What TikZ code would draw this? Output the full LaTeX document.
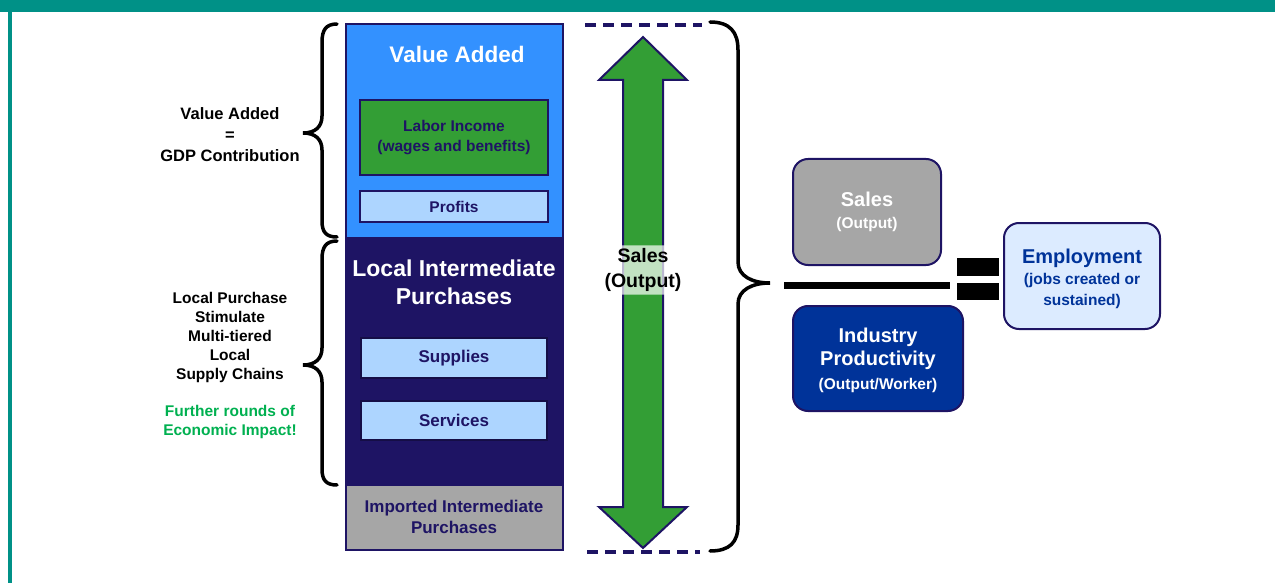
\documentclass[tikz,border=0pt]{standalone}
\usepackage{fontspec}
\setmainfont{Liberation Sans}
\begin{document}
\definecolor{tealc}{RGB}{0,145,135}
\definecolor{navyc}{RGB}{30,20,100}
\definecolor{vablue}{RGB}{51,145,255}
\definecolor{lgreen}{RGB}{51,158,53}
\definecolor{lightblue}{RGB}{173,213,255}
\definecolor{greyc}{RGB}{166,166,166}
\definecolor{prodblue}{RGB}{0,51,153}
\definecolor{empfill}{RGB}{220,235,255}
\definecolor{fgreen}{RGB}{0,176,80}
\begin{tikzpicture}[x=1pt,y=-1pt,
  sect/.style={draw=navyc,line width=1.5pt,minimum width=217pt,inner sep=0pt},
  inbox/.style={draw=navyc,line width=2pt,minimum width=188pt,inner sep=0pt,
    text=navyc,font=\bfseries\fontsize{15.5}{19.5}\selectfont,align=center},
  chainbox/.style={fill=lightblue,draw=navyc!70!black,line width=1.5pt,minimum width=186pt,
    inner sep=0pt,text=navyc,font=\bfseries\fontsize{17}{20}\selectfont},
  rbox/.style={draw=navyc,line width=2pt,rounded corners=15pt,inner sep=0pt,align=center},
  curly/.style={line width=3.5pt,line cap=round},
  sidetext/.style={align=center,font=\bfseries\fontsize{15.5}{19}\selectfont},
  dashrule/.style={draw=navyc,line width=3.5pt,dash pattern=on 11pt off 7pt}]
\useasboundingbox (0,0) rectangle (1275,583);
% frame bars
\fill[tealc] (0,0) rectangle (1275,12);
\fill[tealc] (8,0) rectangle (12,583);

% stacked column
\node[sect,fill=vablue,minimum height=214pt] (va) at (454.5,131) {};
\node[sect,fill=navyc,minimum height=247pt] (lip) at (454.5,361.5) {};
\node[sect,fill=greyc,minimum height=65pt] (imp) at (454.5,517.5) {};
\node[text=white,font=\bfseries\fontsize{22.5}{26}\selectfont] (vat) at (457,54) {Value Added};
\node[text=white,align=center,font=\bfseries\fontsize{23}{28}\selectfont] (lipt) at (454,282) {Local Intermediate\\Purchases};
\node[text=navyc,align=center,font=\bfseries\fontsize{17}{21}\selectfont] (impt) at (454,517) {Imported Intermediate\\Purchases};
\node[inbox,fill=lgreen,minimum height=75pt] (labor) at (454,137.5) {Labor Income\\(wages and benefits)};
\node[inbox,fill=lightblue,minimum height=31pt] (profit) at (454,206.5) {Profits};
\node[chainbox,minimum height=40pt] (supp) at (454,358) {Supplies};
\node[chainbox,minimum height=39pt] (serv) at (454,420.5) {Services};

% left braces
\draw[curly] (337,24) .. controls (326,24) and (322,30) .. (322,42) -- (322,116)
  .. controls (322,127) and (315,133) .. (303,133)
  .. controls (315,133) and (322,139) .. (322,150) -- (322,221)
  .. controls (322,232) and (326,237) .. (337,237);
\draw[curly] (337,241) .. controls (326,241) and (322,247) .. (322,259) -- (322,348)
  .. controls (322,359) and (315,365) .. (303,365)
  .. controls (315,365) and (322,371) .. (322,382) -- (322,469)
  .. controls (322,480) and (326,485) .. (337,485);

% left notes
\node[sidetext,font=\bfseries\fontsize{16.5}{21}\selectfont] (gdp) at (230,135) {Value Added\\=\\GDP Contribution};
\node[sidetext] (chain) at (230,337) {Local Purchase\\Stimulate\\Multi-tiered\\Local\\Supply Chains};
\node[sidetext,text=fgreen] (rounds) at (230,422) {Further rounds of\\Economic Impact!};

% sales arrow
\draw[fill=lgreen,draw=navyc,line width=2pt,line join=miter]
  (643,37) -- (687,80) -- (663,80) -- (663,507) -- (687,507) -- (643,548)
  -- (599,507) -- (623,507) -- (623,80) -- (599,80) -- cycle;
\node[fill=white,fill opacity=0.7,text opacity=1,rounded corners=6pt,inner sep=3pt,
  align=center,font=\bfseries\fontsize{19.5}{25}\selectfont] (salesl) at (643,270) {Sales\\(Output)};
\coordinate (dt1) at (585,25);
\coordinate (dt2) at (702,25);
\coordinate (db1) at (587,552);
\coordinate (db2) at (700,552);
\draw[dashrule] (dt1) -- (dt2);
\draw[dashrule] (db1) -- (db2);

% right brace
\draw[curly] (710,22) .. controls (730,22) and (738,32) .. (738,50) -- (738,262)
  .. controls (738,276) and (752,283) .. (770,283)
  .. controls (752,283) and (738,290) .. (738,304) -- (738,525)
  .. controls (738,542) and (730,551) .. (710,551);

% productivity relation
\node[rbox,fill=greyc,minimum width=148pt,minimum height=106pt,text=white,
  font=\bfseries\fontsize{20}{22}\selectfont] (sales) at (867,212)
  {\rule{0pt}{10pt}Sales\\{\fontsize{15.5}{17}\selectfont(Output)}};
\node[rbox,fill=prodblue,minimum width=170pt,minimum height=105pt,text=white,
  font=\bfseries\fontsize{20}{23.5}\selectfont] (prod) at (878,358.5)
  {\rule{0pt}{18pt}Industry\\Productivity\\{\fontsize{15.5}{19}\selectfont(Output/Worker)}};
\coordinate (ruleL) at (784,285);
\coordinate (ruleR) at (950,285);
\draw[line width=7pt] (ruleL) -- (ruleR);
\node[fill=black,minimum width=42pt,minimum height=18pt,inner sep=0pt] (eqa) at (978,267) {};
\node[fill=black,minimum width=42pt,minimum height=17pt,inner sep=0pt] (eqb) at (978,291.5) {};
\node[rbox,fill=empfill,minimum width=156pt,minimum height=106pt,text=prodblue,
  font=\bfseries\fontsize{20}{21}\selectfont] (emp) at (1082,276)
  {\rule{0pt}{20pt}Employment\\{\fontsize{15.5}{19}\selectfont(jobs created or}\\{\fontsize{15.5}{19}\selectfont sustained)}};
\end{tikzpicture}
\end{document}
